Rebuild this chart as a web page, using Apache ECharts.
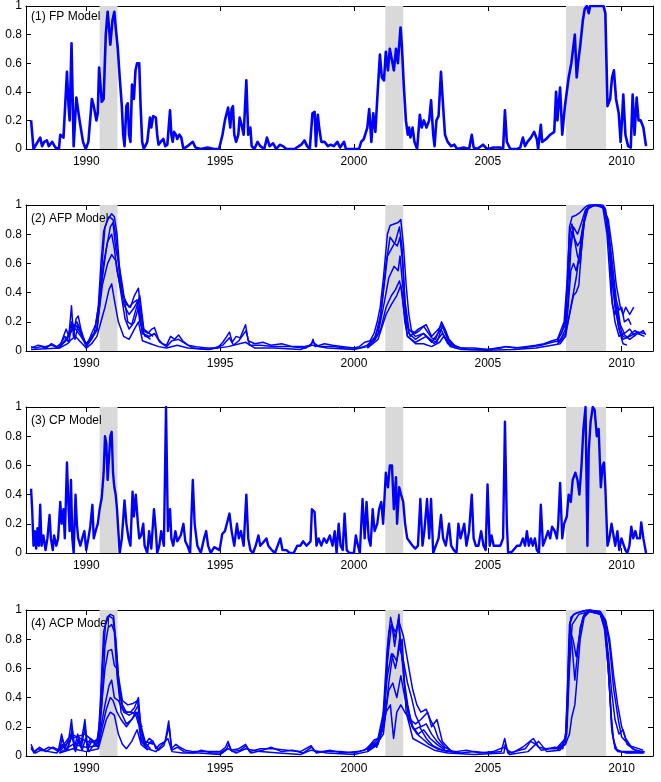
<!DOCTYPE html>
<html><head><meta charset="utf-8">
<script src="https://cdn.jsdelivr.net/npm/echarts@6/dist/echarts.min.js"></script>
<style>html,body{margin:0;padding:0;background:#fff}#c{width:661px;height:782px}</style>
</head><body><div id="c"></div>
<script>
// ---------- data ----------
const yearTicks = [1990, 1995, 2000, 2005, 2010];
const recessions = [[1990.5, 1991.17], [2001.17, 2001.84], [2007.92, 2009.42]];
const panelTitles = ['(1) FP Model', '(2) AFP Model', '(3) CP Model', '(4) ACP Model'];

// (1) FP model  [year, probability]
const fpModel = [[1987.94,0.2],[1988.03,0.0],[1988.28,0.08],[1988.35,0.02],[1988.43,0.05],[1988.53,0.06],[1988.6,0.02],[1988.73,0.05],[1988.85,0.01],[1988.98,0.0],[1989.03,0.1],[1989.15,0.08],[1989.28,0.54],[1989.34,0.3],[1989.38,0.2],[1989.45,0.74],[1989.53,0.02],[1989.63,0.36],[1989.7,0.35],[1989.75,0.2],[1989.81,0.2],[1989.88,0.05],[1989.98,0.0],[1990.08,0.05],[1990.21,0.35],[1990.28,0.3],[1990.38,0.2],[1990.43,0.25],[1990.48,0.57],[1990.53,0.45],[1990.58,0.33],[1990.65,0.35],[1990.73,0.8],[1990.8,0.96],[1990.85,0.85],[1990.9,0.73],[1990.98,0.9],[1991.05,0.96],[1991.1,0.85],[1991.18,0.7],[1991.25,0.5],[1991.33,0.3],[1991.38,0.1],[1991.43,0.02],[1991.5,0.3],[1991.55,0.32],[1991.6,0.1],[1991.65,0.05],[1991.71,0.45],[1991.78,0.35],[1991.84,0.55],[1991.9,0.6],[1991.98,0.6],[1992.03,0.3],[1992.09,0.05],[1992.15,0.0],[1992.28,0.05],[1992.38,0.22],[1992.43,0.15],[1992.5,0.23],[1992.6,0.22],[1992.65,0.1],[1992.7,0.03],[1992.78,0.05],[1992.88,0.07],[1992.95,0.02],[1993.03,0.03],[1993.13,0.27],[1993.18,0.1],[1993.23,0.05],[1993.28,0.12],[1993.35,0.1],[1993.4,0.07],[1993.48,0.1],[1993.55,0.08],[1993.63,0.0],[1993.78,0.02],[1993.98,0.05],[1994.08,0.01],[1994.28,0.0],[1994.53,0.01],[1994.78,0.0],[1994.96,0.0],[1995.09,0.1],[1995.18,0.2],[1995.3,0.29],[1995.38,0.15],[1995.43,0.28],[1995.48,0.3],[1995.53,0.1],[1995.6,0.05],[1995.68,0.1],[1995.73,0.22],[1995.8,0.17],[1995.88,0.1],[1995.98,0.48],[1996.05,0.1],[1996.13,0.15],[1996.18,0.02],[1996.28,0.0],[1996.4,0.05],[1996.5,0.02],[1996.65,0.0],[1996.75,0.08],[1996.85,0.02],[1996.98,0.04],[1997.1,0.0],[1997.23,0.03],[1997.35,0.02],[1997.48,0.0],[1997.78,0.0],[1998.03,0.03],[1998.15,0.06],[1998.25,0.02],[1998.35,0.0],[1998.45,0.25],[1998.53,0.26],[1998.58,0.02],[1998.65,0.24],[1998.7,0.15],[1998.78,0.05],[1998.9,0.05],[1999.03,0.02],[1999.13,0.03],[1999.25,0.02],[1999.38,0.05],[1999.48,0.01],[1999.63,0.05],[1999.7,0.0],[2000.19,0.0],[2000.27,0.05],[2000.37,0.07],[2000.5,0.15],[2000.57,0.28],[2000.65,0.05],[2000.72,0.25],[2000.8,0.12],[2000.87,0.35],[2000.97,0.66],[2001.04,0.5],[2001.12,0.48],[2001.19,0.68],[2001.27,0.55],[2001.34,0.7],[2001.42,0.62],[2001.49,0.55],[2001.57,0.7],[2001.64,0.6],[2001.74,0.85],[2001.79,0.72],[2001.86,0.45],[2001.94,0.2],[2002.01,0.1],[2002.06,0.15],[2002.11,0.08],[2002.19,0.15],[2002.26,0.05],[2002.36,0.0],[2002.46,0.24],[2002.53,0.15],[2002.61,0.2],[2002.71,0.15],[2002.81,0.2],[2002.88,0.34],[2002.96,0.1],[2003.01,0.02],[2003.08,0.2],[2003.16,0.23],[2003.25,0.54],[2003.33,0.3],[2003.4,0.1],[2003.5,0.05],[2003.63,0.02],[2003.75,0.03],[2003.85,0.0],[2004.1,0.01],[2004.3,0.0],[2004.4,0.1],[2004.47,0.01],[2004.6,0.0],[2004.82,0.03],[2004.97,0.0],[2005.22,0.01],[2005.47,0.01],[2005.57,0.0],[2005.64,0.27],[2005.71,0.05],[2005.84,0.0],[2006.09,0.0],[2006.21,0.01],[2006.31,0.08],[2006.39,0.02],[2006.48,0.05],[2006.61,0.08],[2006.73,0.12],[2006.83,0.07],[2006.88,0.0],[2006.98,0.17],[2007.03,0.05],[2007.18,0.07],[2007.33,0.1],[2007.48,0.12],[2007.55,0.4],[2007.6,0.2],[2007.7,0.43],[2007.78,0.1],[2007.88,0.3],[2008.02,0.5],[2008.12,0.6],[2008.25,0.8],[2008.32,0.5],[2008.37,0.6],[2008.45,0.72],[2008.55,0.9],[2008.62,0.98],[2008.7,1.0],[2008.77,0.95],[2008.82,1.0],[2009.32,1.0],[2009.39,0.95],[2009.47,0.3],[2009.57,0.35],[2009.64,0.5],[2009.71,0.55],[2009.79,0.35],[2009.89,0.25],[2009.96,0.05],[2010.01,0.2],[2010.06,0.38],[2010.14,0.1],[2010.24,0.02],[2010.34,0.01],[2010.41,0.38],[2010.48,0.1],[2010.56,0.36],[2010.63,0.2],[2010.71,0.2],[2010.81,0.15],[2010.91,0.02]];

// (2) AFP model: full-sample lines and real-time vintages
const afpMain = [[1987.94,0.03],[1988.1,0.02],[1988.3,0.03],[1988.5,0.02],[1988.7,0.05],[1988.9,0.03],[1989.05,0.05],[1989.25,0.15],[1989.35,0.1],[1989.45,0.31],[1989.52,0.1],[1989.62,0.22],[1989.7,0.24],[1989.8,0.15],[1989.95,0.06],[1990.05,0.05],[1990.2,0.12],[1990.35,0.18],[1990.45,0.3],[1990.55,0.6],[1990.65,0.82],[1990.8,0.9],[1990.95,0.94],[1991.05,0.92],[1991.15,0.8],[1991.25,0.55],[1991.35,0.4],[1991.5,0.32],[1991.65,0.3],[1991.8,0.38],[1991.95,0.43],[1992.05,0.25],[1992.15,0.14],[1992.3,0.12],[1992.45,0.15],[1992.55,0.16],[1992.7,0.08],[1992.85,0.05],[1993.0,0.04],[1993.15,0.1],[1993.3,0.08],[1993.45,0.11],[1993.6,0.07],[1993.8,0.04],[1994.1,0.03],[1994.5,0.02],[1994.9,0.02],[1995.1,0.06],[1995.25,0.1],[1995.35,0.13],[1995.45,0.06],[1995.6,0.1],[1995.75,0.09],[1995.95,0.18],[1996.05,0.07],[1996.3,0.05],[1996.6,0.06],[1996.9,0.04],[1997.3,0.05],[1997.7,0.03],[1998.1,0.03],[1998.4,0.04],[1998.47,0.08],[1998.55,0.03],[1998.9,0.05],[1999.2,0.04],[1999.6,0.03],[2000.0,0.02],[2000.2,0.03],[2000.4,0.06],[2000.6,0.07],[2000.75,0.12],[2000.87,0.2],[2000.98,0.3],[2001.1,0.5],[2001.25,0.8],[2001.35,0.86],[2001.5,0.87],[2001.65,0.88],[2001.75,0.9],[2001.85,0.72],[2001.95,0.45],[2002.05,0.25],[2002.15,0.14],[2002.3,0.12],[2002.45,0.14],[2002.6,0.17],[2002.75,0.13],[2002.9,0.09],[2003.05,0.08],[2003.15,0.13],[2003.27,0.2],[2003.4,0.15],[2003.55,0.08],[2003.75,0.04],[2004.0,0.02],[2004.5,0.02],[2005.0,0.01],[2005.5,0.02],[2005.65,0.03],[2006.0,0.02],[2006.4,0.03],[2006.8,0.04],[2007.1,0.05],[2007.4,0.07],[2007.6,0.08],[2007.75,0.12],[2007.88,0.2],[2007.98,0.5],[2008.05,0.85],[2008.15,0.92],[2008.3,0.93],[2008.45,0.95],[2008.6,0.98],[2008.75,1.0],[2009.0,1.0],[2009.3,1.0],[2009.4,0.97],[2009.5,0.82],[2009.6,0.62],[2009.7,0.45],[2009.8,0.3],[2009.95,0.16],[2010.05,0.1],[2010.2,0.09],[2010.35,0.12],[2010.5,0.14],[2010.65,0.12],[2010.8,0.14],[2010.9,0.11]];
const afpAlt = [[1987.94,0.02],[1988.2,0.04],[1988.45,0.03],[1988.7,0.04],[1988.95,0.02],[1989.2,0.1],[1989.35,0.06],[1989.48,0.2],[1989.58,0.08],[1989.7,0.18],[1989.85,0.1],[1990.0,0.03],[1990.2,0.08],[1990.4,0.15],[1990.55,0.5],[1990.7,0.85],[1990.85,0.92],[1991.0,0.9],[1991.1,0.8],[1991.25,0.5],[1991.4,0.32],[1991.6,0.25],[1991.8,0.3],[1991.95,0.35],[1992.1,0.12],[1992.35,0.1],[1992.55,0.12],[1992.75,0.06],[1993.0,0.03],[1993.2,0.07],[1993.45,0.08],[1993.7,0.05],[1994.0,0.02],[1994.6,0.01],[1995.1,0.04],[1995.35,0.09],[1995.5,0.04],[1995.7,0.07],[1995.97,0.14],[1996.1,0.04],[1996.5,0.04],[1997.0,0.03],[1997.6,0.03],[1998.2,0.02],[1998.47,0.06],[1998.7,0.03],[1999.2,0.03],[1999.7,0.02],[2000.2,0.02],[2000.5,0.04],[2000.75,0.08],[2000.95,0.18],[2001.1,0.4],[2001.25,0.65],[2001.4,0.7],[2001.55,0.75],[2001.7,0.85],[2001.8,0.7],[2001.9,0.35],[2002.05,0.15],[2002.3,0.1],[2002.6,0.12],[2002.85,0.08],[2003.1,0.06],[2003.3,0.17],[2003.5,0.08],[2003.8,0.03],[2004.3,0.01],[2005.0,0.01],[2005.64,0.03],[2006.2,0.02],[2006.7,0.03],[2007.0,0.04],[2007.4,0.06],[2007.7,0.07],[2007.9,0.15],[2008.0,0.35],[2008.1,0.7],[2008.2,0.85],[2008.35,0.8],[2008.5,0.88],[2008.65,0.97],[2008.9,1.0],[2009.3,0.99],[2009.45,0.9],[2009.6,0.55],[2009.75,0.3],[2009.9,0.15],[2010.05,0.08],[2010.3,0.1],[2010.6,0.13],[2010.85,0.12]];
const afpLow = [[1987.94,0.01],[1988.5,0.015],[1989.0,0.02],[1989.3,0.05],[1989.45,0.08],[1989.6,0.1],[1989.8,0.06],[1990.0,0.02],[1990.2,0.05],[1990.4,0.1],[1990.55,0.2],[1990.7,0.3],[1990.85,0.42],[1990.95,0.46],[1991.05,0.35],[1991.2,0.2],[1991.4,0.1],[1991.6,0.08],[1991.8,0.15],[1991.95,0.2],[1992.1,0.07],[1992.4,0.05],[1992.7,0.03],[1993.0,0.02],[1993.4,0.04],[1993.8,0.02],[1994.5,0.01],[1995.3,0.03],[1995.95,0.06],[1996.3,0.02],[1997.0,0.02],[1998.0,0.01],[1998.45,0.04],[1999.0,0.02],[2000.0,0.01],[2000.5,0.03],[2000.8,0.08],[2001.0,0.15],[2001.2,0.3],[2001.4,0.38],[2001.55,0.42],[2001.7,0.48],[2001.8,0.4],[2001.9,0.2],[2002.0,0.1],[2002.3,0.05],[2002.6,0.05],[2002.9,0.03],[2003.2,0.06],[2003.35,0.1],[2003.6,0.03],[2004.0,0.01],[2005.0,0.005],[2006.0,0.01],[2006.8,0.02],[2007.4,0.04],[2007.7,0.05],[2007.9,0.1],[2008.0,0.2],[2008.15,0.35],[2008.3,0.5],[2008.45,0.7],[2008.6,0.9],[2008.75,0.98],[2009.0,1.0],[2009.3,0.99],[2009.45,0.9],[2009.6,0.6],[2009.75,0.35],[2009.9,0.15],[2010.05,0.05],[2010.2,0.04]];
const afpV1 = [[1989.0,0.03],[1989.3,0.08],[1989.45,0.2],[1989.6,0.15],[1989.8,0.1],[1990.0,0.04],[1990.3,0.12],[1990.5,0.35],[1990.65,0.6],[1990.8,0.75],[1990.95,0.8],[1991.05,0.7],[1991.15,0.55],[1991.3,0.42],[1991.45,0.35],[1991.6,0.3],[1991.75,0.33],[1991.9,0.35],[1992.0,0.2],[1992.2,0.1],[1992.4,0.1]];
const afpV2 = [[1989.0,0.02],[1989.4,0.12],[1989.6,0.18],[1990.0,0.05],[1990.4,0.15],[1990.6,0.45],[1990.8,0.6],[1990.95,0.66],[1991.1,0.62],[1991.25,0.45],[1991.45,0.22],[1991.6,0.15],[1991.8,0.2],[1991.95,0.3],[1992.1,0.12],[1992.4,0.08]];
const afpV3 = [[1989.0,0.02],[1989.45,0.14],[1989.65,0.2],[1990.0,0.04],[1990.4,0.14],[1990.6,0.5],[1990.75,0.7],[1990.9,0.85],[1991.0,0.88],[1991.1,0.7],[1991.2,0.62],[1991.35,0.45],[1991.55,0.2],[1991.7,0.18],[1991.85,0.28],[1992.0,0.38],[1992.15,0.15],[1992.5,0.1]];
const afpV4 = [[2000.5,0.04],[2000.8,0.1],[2001.0,0.25],[2001.2,0.6],[2001.35,0.78],[2001.5,0.74],[2001.62,0.72],[2001.72,0.78],[2001.82,0.6],[2001.92,0.3],[2002.05,0.12],[2002.3,0.08],[2002.6,0.12],[2002.9,0.06],[2003.25,0.15],[2003.5,0.05],[2003.8,0.02]];
const afpV5 = [[2000.5,0.03],[2000.9,0.12],[2001.1,0.3],[2001.3,0.5],[2001.5,0.58],[2001.65,0.55],[2001.72,0.65],[2001.82,0.45],[2001.95,0.2],[2002.1,0.1],[2002.4,0.15],[2002.7,0.18],[2002.9,0.1],[2003.3,0.18],[2003.6,0.05],[2003.9,0.02]];
const afpV6 = [[2000.5,0.02],[2000.9,0.08],[2001.2,0.25],[2001.4,0.32],[2001.6,0.38],[2001.75,0.45],[2001.85,0.3],[2002.0,0.1],[2002.3,0.06],[2002.7,0.1],[2003.0,0.05],[2003.3,0.12],[2003.6,0.04]];
const afpV7 = [[2007.6,0.08],[2007.85,0.2],[2007.95,0.45],[2008.05,0.8],[2008.14,0.87],[2008.25,0.75],[2008.35,0.65],[2008.45,0.6],[2008.55,0.8],[2008.65,0.95],[2008.8,1.0],[2009.2,1.0],[2009.35,0.97],[2009.5,0.85],[2009.65,0.6],[2009.8,0.35],[2009.9,0.28],[2010.0,0.3],[2010.1,0.2],[2010.25,0.22],[2010.35,0.18]];
const afpV8 = [[2007.6,0.07],[2007.9,0.18],[2008.0,0.5],[2008.12,0.82],[2008.22,0.78],[2008.35,0.72],[2008.45,0.75],[2008.6,0.9],[2008.75,0.99],[2009.2,1.0],[2009.38,0.96],[2009.55,0.7],[2009.65,0.32],[2009.75,0.25],[2009.85,0.3],[2009.95,0.18],[2010.1,0.12],[2010.3,0.15],[2010.5,0.1]];
const afpV9 = [[2007.6,0.06],[2007.9,0.12],[2008.05,0.25],[2008.2,0.38],[2008.3,0.4],[2008.4,0.45],[2008.5,0.7],[2008.6,0.88],[2008.75,0.98],[2009.0,1.0],[2009.3,0.99],[2009.5,0.9],[2009.65,0.7],[2009.8,0.45],[2009.95,0.3],[2010.05,0.25],[2010.15,0.3],[2010.3,0.25],[2010.45,0.3]];
const afpV10 = [[2007.6,0.05],[2007.9,0.1],[2008.0,0.3],[2008.1,0.55],[2008.2,0.6],[2008.3,0.55],[2008.42,0.65],[2008.55,0.85],[2008.7,0.97],[2009.0,1.0],[2009.3,0.98],[2009.45,0.8],[2009.6,0.4],[2009.75,0.2],[2009.9,0.1],[2010.05,0.12],[2010.3,0.08],[2010.6,0.12],[2010.85,0.1]];

// (3) CP model
const cpModel = [[1987.94,0.44],[1987.98,0.3],[1988.03,0.05],[1988.08,0.15],[1988.13,0.03],[1988.18,0.17],[1988.23,0.05],[1988.28,0.33],[1988.33,0.05],[1988.4,0.12],[1988.48,0.02],[1988.55,0.1],[1988.63,0.26],[1988.68,0.1],[1988.75,0.02],[1988.8,0.12],[1988.88,0.05],[1988.95,0.1],[1989.03,0.35],[1989.08,0.2],[1989.15,0.3],[1989.2,0.1],[1989.28,0.62],[1989.33,0.35],[1989.38,0.15],[1989.43,0.5],[1989.48,0.1],[1989.53,0.0],[1989.6,0.4],[1989.65,0.2],[1989.7,0.1],[1989.78,0.05],[1989.85,0.1],[1989.93,0.15],[1990.0,0.02],[1990.08,0.1],[1990.15,0.18],[1990.23,0.33],[1990.28,0.1],[1990.35,0.15],[1990.43,0.2],[1990.5,0.3],[1990.58,0.38],[1990.65,0.55],[1990.7,0.8],[1990.75,0.75],[1990.8,0.5],[1990.85,0.65],[1990.9,0.8],[1990.95,0.83],[1991.0,0.55],[1991.05,0.45],[1991.1,0.4],[1991.15,0.3],[1991.2,0.15],[1991.25,0.0],[1991.33,0.1],[1991.43,0.36],[1991.5,0.2],[1991.58,0.1],[1991.65,0.05],[1991.73,0.42],[1991.78,0.25],[1991.85,0.4],[1991.93,0.2],[1991.98,0.1],[1992.05,0.12],[1992.13,0.2],[1992.18,0.05],[1992.28,0.0],[1992.35,0.15],[1992.43,0.03],[1992.53,0.3],[1992.6,0.15],[1992.65,0.0],[1992.73,0.05],[1992.8,0.15],[1992.9,0.05],[1992.98,1.0],[1993.05,0.15],[1993.13,0.3],[1993.18,0.1],[1993.25,0.05],[1993.33,0.15],[1993.4,0.08],[1993.53,0.12],[1993.63,0.2],[1993.7,0.08],[1993.78,0.05],[1993.88,0.0],[1993.98,0.5],[1994.05,0.2],[1994.15,0.05],[1994.28,0.0],[1994.4,0.1],[1994.48,0.15],[1994.55,0.05],[1994.65,0.0],[1994.78,0.04],[1994.98,0.02],[1995.08,0.13],[1995.18,0.15],[1995.28,0.22],[1995.35,0.27],[1995.43,0.15],[1995.53,0.05],[1995.63,0.2],[1995.7,0.1],[1995.78,0.15],[1995.88,0.05],[1995.98,0.4],[1996.05,0.1],[1996.13,0.02],[1996.23,0.0],[1996.33,0.05],[1996.43,0.12],[1996.5,0.05],[1996.6,0.07],[1996.73,0.1],[1996.8,0.05],[1996.93,0.02],[1997.05,0.0],[1997.15,0.05],[1997.25,0.1],[1997.33,0.02],[1997.48,0.02],[1997.6,0.0],[1997.75,0.0],[1997.88,0.05],[1998.0,0.05],[1998.1,0.08],[1998.23,0.05],[1998.38,0.08],[1998.43,0.3],[1998.53,0.28],[1998.6,0.05],[1998.68,0.1],[1998.78,0.05],[1998.88,0.1],[1998.98,0.07],[1999.1,0.12],[1999.2,0.05],[1999.28,0.15],[1999.35,0.0],[1999.43,0.2],[1999.5,0.05],[1999.58,0.02],[1999.65,0.27],[1999.73,0.02],[1999.83,0.0],[2000.0,0.0],[2000.07,0.12],[2000.15,0.05],[2000.22,0.0],[2000.32,0.37],[2000.4,0.1],[2000.47,0.35],[2000.55,0.1],[2000.62,0.05],[2000.7,0.3],[2000.77,0.15],[2000.87,0.2],[2000.94,0.3],[2001.02,0.35],[2001.09,0.2],[2001.19,0.55],[2001.27,0.45],[2001.34,0.6],[2001.42,0.6],[2001.49,0.3],[2001.57,0.52],[2001.61,0.2],[2001.69,0.45],[2001.76,0.4],[2001.84,0.35],[2001.91,0.2],[2001.99,0.1],[2002.06,0.1],[2002.19,0.05],[2002.29,0.03],[2002.39,0.05],[2002.48,0.37],[2002.56,0.05],[2002.63,0.15],[2002.73,0.37],[2002.81,0.1],[2002.88,0.37],[2002.96,0.0],[2003.06,0.05],[2003.16,0.1],[2003.25,0.26],[2003.33,0.1],[2003.43,0.05],[2003.55,0.2],[2003.63,0.05],[2003.73,0.02],[2003.83,0.0],[2003.9,0.2],[2003.98,0.1],[2004.05,0.15],[2004.12,0.2],[2004.2,0.05],[2004.3,0.15],[2004.4,0.4],[2004.47,0.1],[2004.55,0.05],[2004.65,0.05],[2004.75,0.15],[2004.84,0.05],[2004.92,0.02],[2004.99,0.47],[2005.07,0.05],[2005.14,0.12],[2005.22,0.05],[2005.34,0.05],[2005.47,0.05],[2005.57,0.1],[2005.64,0.9],[2005.71,0.2],[2005.76,0.0],[2005.91,0.01],[2006.09,0.05],[2006.21,0.05],[2006.31,0.1],[2006.39,0.05],[2006.46,0.15],[2006.53,0.05],[2006.61,0.1],[2006.68,0.05],[2006.76,0.1],[2006.83,0.02],[2006.91,0.0],[2006.98,0.33],[2007.06,0.05],[2007.16,0.1],[2007.25,0.15],[2007.33,0.1],[2007.4,0.18],[2007.5,0.15],[2007.58,0.1],[2007.63,0.2],[2007.7,0.48],[2007.78,0.1],[2007.85,0.2],[2007.95,0.25],[2008.02,0.4],[2008.1,0.35],[2008.17,0.5],[2008.27,0.55],[2008.35,0.5],[2008.42,0.4],[2008.5,0.6],[2008.57,0.85],[2008.65,1.0],[2008.72,0.05],[2008.77,0.7],[2008.84,0.9],[2008.92,1.0],[2008.99,0.98],[2009.07,0.8],[2009.14,0.85],[2009.22,0.45],[2009.29,0.6],[2009.34,0.62],[2009.39,0.45],[2009.47,0.05],[2009.54,0.1],[2009.62,0.2],[2009.69,0.2],[2009.76,0.05],[2009.84,0.15],[2009.91,0.02],[2009.99,0.1],[2010.06,0.1],[2010.14,0.02],[2010.21,0.0],[2010.29,0.05],[2010.36,0.18],[2010.43,0.1],[2010.51,0.15],[2010.58,0.1],[2010.68,0.1],[2010.73,0.21],[2010.81,0.1],[2010.91,0.0]];

// (4) ACP model: full-sample lines and real-time vintages
const acpMain = [[1987.94,0.08],[1988.05,0.03],[1988.2,0.05],[1988.4,0.04],[1988.6,0.06],[1988.8,0.05],[1988.95,0.03],[1989.08,0.15],[1989.2,0.05],[1989.35,0.12],[1989.45,0.25],[1989.55,0.05],[1989.68,0.15],[1989.8,0.08],[1989.95,0.25],[1990.05,0.05],[1990.15,0.12],[1990.3,0.1],[1990.45,0.12],[1990.55,0.45],[1990.65,0.85],[1990.78,0.95],[1990.9,0.97],[1991.02,0.96],[1991.12,0.75],[1991.22,0.5],[1991.35,0.35],[1991.5,0.3],[1991.65,0.3],[1991.8,0.33],[1991.95,0.4],[1992.05,0.15],[1992.2,0.08],[1992.35,0.12],[1992.5,0.1],[1992.6,0.05],[1992.75,0.08],[1992.95,0.1],[1993.08,0.24],[1993.18,0.05],[1993.35,0.08],[1993.5,0.06],[1993.7,0.04],[1994.0,0.03],[1994.5,0.03],[1995.0,0.03],[1995.2,0.06],[1995.3,0.1],[1995.4,0.04],[1995.7,0.05],[1995.95,0.08],[1996.1,0.03],[1996.5,0.05],[1997.0,0.05],[1997.5,0.04],[1998.0,0.03],[1998.4,0.07],[1998.55,0.03],[1999.0,0.03],[1999.5,0.03],[2000.0,0.02],[2000.2,0.03],[2000.5,0.05],[2000.75,0.11],[2000.9,0.12],[2001.06,0.2],[2001.24,0.73],[2001.37,0.95],[2001.49,0.85],[2001.55,0.8],[2001.68,0.97],[2001.74,0.75],[2001.8,0.8],[2001.89,0.5],[2002.01,0.35],[2002.17,0.2],[2002.36,0.15],[2002.55,0.12],[2002.8,0.08],[2003.1,0.05],[2003.5,0.03],[2004.0,0.02],[2004.5,0.03],[2005.0,0.02],[2005.5,0.03],[2005.63,0.12],[2005.75,0.02],[2006.0,0.03],[2006.4,0.05],[2006.6,0.1],[2006.8,0.08],[2007.0,0.04],[2007.3,0.05],[2007.6,0.05],[2007.9,0.08],[2008.0,0.4],[2008.05,0.9],[2008.2,0.97],[2008.5,0.99],[2008.8,1.0],[2009.2,0.98],[2009.35,0.88],[2009.5,0.6],[2009.6,0.3],[2009.7,0.1],[2009.85,0.03],[2010.3,0.02],[2010.8,0.02]];
const acpAlt = [[1987.94,0.05],[1988.1,0.02],[1988.3,0.04],[1988.6,0.03],[1988.9,0.02],[1989.1,0.08],[1989.3,0.04],[1989.45,0.15],[1989.6,0.03],[1989.7,0.1],[1989.85,0.04],[1989.97,0.12],[1990.1,0.03],[1990.3,0.08],[1990.45,0.06],[1990.58,0.35],[1990.7,0.75],[1990.82,0.88],[1990.95,0.9],[1991.05,0.85],[1991.15,0.55],[1991.3,0.3],[1991.5,0.22],[1991.7,0.25],[1991.9,0.3],[1992.05,0.1],[1992.3,0.05],[1992.6,0.03],[1993.05,0.12],[1993.2,0.03],[1993.6,0.02],[1994.2,0.02],[1995.0,0.01],[1995.3,0.05],[1995.6,0.02],[1995.95,0.05],[1996.5,0.03],[1997.2,0.02],[1998.0,0.01],[1998.4,0.04],[1999.0,0.02],[2000.0,0.01],[2000.5,0.03],[2000.8,0.07],[2001.1,0.15],[2001.3,0.5],[2001.45,0.7],[2001.6,0.65],[2001.7,0.8],[2001.85,0.6],[2001.95,0.3],[2002.2,0.12],[2002.6,0.08],[2003.0,0.04],[2003.5,0.02],[2004.5,0.01],[2005.6,0.02],[2005.65,0.08],[2005.8,0.01],[2006.5,0.03],[2006.9,0.1],[2007.2,0.03],[2007.7,0.04],[2007.95,0.15],[2008.05,0.6],[2008.15,0.9],[2008.4,0.97],[2008.8,0.99],[2009.2,0.97],[2009.4,0.85],[2009.55,0.45],[2009.65,0.15],[2009.8,0.04],[2010.2,0.02],[2010.85,0.03]];
const acpNoise = [[1987.94,0.06],[1988.05,0.02],[1988.25,0.06],[1988.5,0.03],[1988.75,0.06],[1989.0,0.04],[1989.1,0.12],[1989.25,0.04],[1989.4,0.1],[1989.47,0.2],[1989.58,0.04],[1989.7,0.12],[1989.82,0.06],[1989.95,0.2],[1990.05,0.04],[1990.2,0.1],[1990.35,0.08],[1990.48,0.1],[1990.6,0.6],[1990.72,0.9],[1990.85,0.96],[1991.0,0.94],[1991.1,0.8],[1991.2,0.55],[1991.35,0.38],[1991.55,0.35],[1991.75,0.36],[1991.92,0.38],[1992.05,0.12],[1992.25,0.06],[1992.4,0.1],[1992.55,0.08],[1992.7,0.04],[1992.9,0.07],[1993.1,0.2],[1993.2,0.04],[1993.4,0.06],[1993.65,0.03],[1994.0,0.02],[1994.3,0.04],[1994.7,0.02],[1995.0,0.02],[1995.25,0.05],[1995.32,0.08],[1995.45,0.03],[1995.75,0.04],[1995.97,0.07],[1996.15,0.02],[1996.6,0.04],[1996.9,0.06],[1997.3,0.03],[1997.7,0.04],[1998.1,0.02],[1998.42,0.06],[1998.6,0.02],[1999.1,0.04],[1999.6,0.02],[2000.1,0.03],[2000.4,0.04],[2000.7,0.09],[2000.85,0.06],[2001.0,0.15],[2001.15,0.3],[2001.3,0.85],[2001.42,0.9],[2001.52,0.75],[2001.65,0.93],[2001.78,0.7],[2001.9,0.45],[2002.05,0.25],[2002.25,0.18],[2002.45,0.2],[2002.7,0.12],[2002.95,0.07],[2003.3,0.04],[2003.8,0.03],[2004.2,0.04],[2004.7,0.02],[2005.2,0.03],[2005.6,0.06],[2005.9,0.02],[2006.3,0.06],[2006.7,0.12],[2006.9,0.06],[2007.2,0.05],[2007.5,0.06],[2007.8,0.05],[2007.95,0.2],[2008.02,0.75],[2008.1,0.95],[2008.3,0.98],[2008.7,1.0],[2009.2,0.99],[2009.38,0.9],[2009.52,0.55],[2009.62,0.2],[2009.75,0.05],[2010.0,0.03],[2010.5,0.03],[2010.85,0.02]];
const acpV1 = [[1989.0,0.04],[1989.45,0.15],[1990.0,0.1],[1990.4,0.1],[1990.55,0.3],[1990.7,0.6],[1990.82,0.72],[1990.95,0.73],[1991.05,0.62],[1991.15,0.6],[1991.25,0.42],[1991.4,0.3],[1991.6,0.28],[1991.8,0.3],[1991.95,0.35],[1992.05,0.2],[1992.2,0.1],[1992.5,0.08]];
const acpV2 = [[1989.0,0.03],[1989.45,0.12],[1989.95,0.15],[1990.4,0.08],[1990.55,0.2],[1990.7,0.35],[1990.85,0.48],[1990.95,0.52],[1991.05,0.4],[1991.2,0.38],[1991.35,0.32],[1991.5,0.3],[1991.7,0.3],[1991.85,0.28],[1991.95,0.22],[1992.1,0.2]];
const acpV3 = [[1989.0,0.02],[1989.5,0.08],[1990.0,0.06],[1990.45,0.07],[1990.6,0.2],[1990.75,0.32],[1990.9,0.4],[1991.0,0.38],[1991.15,0.3],[1991.3,0.25],[1991.5,0.2],[1991.7,0.25],[1991.85,0.3],[1992.0,0.25],[1992.15,0.1],[1992.4,0.05]];
const acpV4 = [[1989.0,0.02],[1989.5,0.05],[1990.0,0.03],[1990.45,0.05],[1990.6,0.15],[1990.75,0.25],[1990.9,0.3],[1991.05,0.28],[1991.2,0.15],[1991.35,0.08],[1991.5,0.05],[1991.7,0.1],[1991.9,0.18],[1992.05,0.08],[1992.3,0.04]];
const acpV5 = [[2000.5,0.04],[2000.9,0.1],[2001.1,0.25],[2001.25,0.65],[2001.4,0.9],[2001.55,0.85],[2001.68,0.92],[2001.85,0.82],[2001.97,0.69],[2002.1,0.55],[2002.2,0.45],[2002.35,0.35],[2002.5,0.3],[2002.7,0.32],[2002.85,0.25],[2003.0,0.2],[2003.15,0.12],[2003.4,0.06],[2003.7,0.03]];
const acpV6 = [[2000.5,0.03],[2000.9,0.08],[2001.1,0.2],[2001.2,0.3],[2001.36,0.35],[2001.48,0.12],[2001.6,0.3],[2001.75,0.35],[2001.9,0.3],[2002.1,0.25],[2002.3,0.22],[2002.5,0.25],[2002.75,0.3],[2002.9,0.2],[2003.1,0.25],[2003.3,0.1],[2003.6,0.04]];
const acpV7 = [[2000.5,0.04],[2000.9,0.12],[2001.1,0.3],[2001.25,0.55],[2001.4,0.7],[2001.55,0.6],[2001.7,0.75],[2001.85,0.65],[2002.0,0.5],[2002.15,0.4],[2002.3,0.28],[2002.5,0.2],[2002.7,0.22],[2002.9,0.15],[2003.1,0.1],[2003.4,0.05]];
const acpV8 = [[2000.5,0.03],[2000.9,0.1],[2001.1,0.2],[2001.3,0.45],[2001.45,0.5],[2001.6,0.4],[2001.75,0.55],[2001.9,0.4],[2002.05,0.3],[2002.2,0.2],[2002.4,0.15],[2002.6,0.18],[2002.85,0.12],[2003.1,0.08],[2003.4,0.04]];
const acpV9 = [[2007.6,0.05],[2007.9,0.1],[2008.0,0.6],[2008.07,0.92],[2008.15,0.75],[2008.25,0.52],[2008.35,0.7],[2008.45,0.88],[2008.6,0.97],[2008.8,1.0],[2009.2,0.98],[2009.4,0.92],[2009.55,0.75],[2009.7,0.46],[2009.88,0.24],[2010.0,0.13],[2010.3,0.07],[2010.8,0.04]];
const acpV10 = [[2007.6,0.04],[2007.9,0.08],[2008.05,0.15],[2008.13,0.26],[2008.25,0.35],[2008.32,0.5],[2008.45,0.8],[2008.6,0.95],[2008.8,0.99],[2009.2,0.97],[2009.38,0.9],[2009.5,0.7],[2009.62,0.45],[2009.75,0.25],[2009.9,0.15],[2010.05,0.18],[2010.2,0.08],[2010.5,0.04],[2010.85,0.03]];
const acpV11 = [[2007.6,0.06],[2007.9,0.12],[2008.0,0.5],[2008.08,0.85],[2008.18,0.8],[2008.3,0.68],[2008.4,0.8],[2008.55,0.95],[2008.8,1.0],[2009.2,0.99],[2009.4,0.93],[2009.55,0.8],[2009.7,0.55],[2009.85,0.35],[2010.0,0.2],[2010.15,0.12],[2010.4,0.05],[2010.7,0.03]];

const panelSeries = [
  {width: 2.6, lines: [fpModel]},
  {width: 1.5, lines: [afpMain, afpAlt, afpLow, afpV1, afpV2, afpV3, afpV4, afpV5, afpV6, afpV7, afpV8, afpV9, afpV10]},
  {width: 2.4, lines: [cpModel]},
  {width: 1.5, lines: [acpMain, acpAlt, acpNoise, acpV1, acpV2, acpV3, acpV4, acpV5, acpV6, acpV7, acpV8, acpV9, acpV10, acpV11]}
];

// ---------- chart ----------
const chart = echarts.init(document.getElementById('c'), null, {renderer: 'canvas'});
const FONT = '"Liberation Sans", Arial, Helvetica, sans-serif';
const tops = [3, 205, 407, 610];
const H = 146;
const XMIN = 1987.75, XMAX = 2011.17;
const grid = [], xAxis = [], yAxis = [], series = [], title = [];
const lineStyleAxis = {color: '#000', width: 1};

tops.forEach((t, i) => {
  grid.push({left: 26, right: 8, top: t, height: H, containLabel: false});
  title.push({text: panelTitles[i], left: 31, top: t + 8, padding: 0, z: 2,
    textStyle: {fontFamily: FONT, fontSize: 12, fontWeight: 'normal', color: '#000'}});
  const xa = {
    type: 'value', gridIndex: i, min: XMIN, max: XMAX,
    axisLine: {show: true, onZero: false, lineStyle: lineStyleAxis},
    axisTick: {show: true, inside: true, length: 5, customValues: yearTicks, lineStyle: lineStyleAxis},
    axisLabel: {show: true, customValues: yearTicks, margin: 7, fontFamily: FONT, fontSize: 12, color: '#000', formatter: v => String(v)},
    splitLine: {show: false}
  };
  xAxis.push(Object.assign({}, xa, {position: 'bottom'}));
  xAxis.push(Object.assign({}, xa, {position: 'top', axisLabel: {show: false}}));
  const ya = {
    type: 'value', gridIndex: i, min: 0, max: 1, interval: 0.2,
    axisLine: {show: true, onZero: false, lineStyle: lineStyleAxis},
    axisTick: {show: true, inside: true, length: 5, lineStyle: lineStyleAxis},
    axisLabel: {show: true, margin: 4, fontFamily: FONT, fontSize: 12, color: '#000',
      formatter: v => (v === 0 ? '0' : (Math.abs(v - 1) < 1e-9 ? '1' : v.toFixed(1)))},
    splitLine: {show: false}
  };
  yAxis.push(Object.assign({}, ya, {position: 'left'}));
  yAxis.push(Object.assign({}, ya, {position: 'right', axisLabel: {show: false}}));

  // recession shading
  series.push({
    type: 'line', xAxisIndex: 2 * i, yAxisIndex: 2 * i, data: [], silent: true, z: 1,
    markArea: {silent: true, itemStyle: {color: '#d9d9d9', opacity: 1},
      data: recessions.map(r => [{xAxis: r[0], yAxis: 0}, {xAxis: r[1], yAxis: 1}])}
  });
  panelSeries[i].lines.forEach(d => {
    series.push({
      type: 'line', xAxisIndex: 2 * i, yAxisIndex: 2 * i, data: d, z: 3,
      showSymbol: false, symbol: 'none', animation: false, silent: true,
      lineStyle: {color: '#0000ff', width: panelSeries[i].width, join: 'round'}
    });
  });
});

chart.setOption({animation: false, backgroundColor: '#fff', title, grid, xAxis, yAxis, series});
</script></body></html>
